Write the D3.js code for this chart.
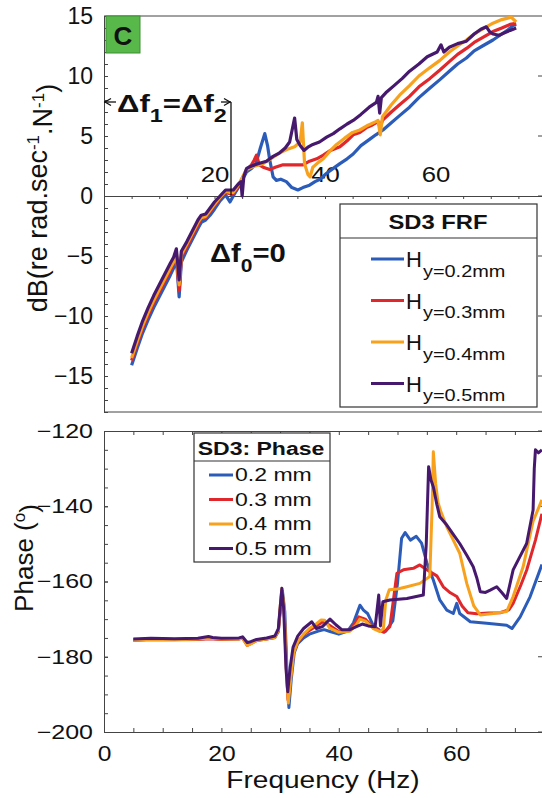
<!DOCTYPE html>
<html>
<head>
<meta charset="utf-8">
<script src="https://cdn.jsdelivr.net/npm/d3@7"></script>
<style>
body{margin:0;background:#fff;}
svg{display:block;font-family:"Liberation Sans",Arial,sans-serif;}
</style>
</head>
<body>
<div id="chart"></div>
<script>
// tick labels
var frfTicksY=[-15,-10,-5,0,5,10,15];
var frfTicksX=[20,40,60];
var phaseTicksY=[-200,-180,-160,-140,-120];
var phaseTicksX=[0,20,40,60];

// series names / colours
var seriesColors=["#2c5cb9","#e0272b","#f7a11d","#46196e"];
var frfNames=["y=0.2mm","y=0.3mm","y=0.4mm","y=0.5mm"];
var phaseNames=["0.2 mm","0.3 mm","0.4 mm","0.5 mm"];

// FRF magnitude, [frequency Hz, dB]
var frf02=[[5,-14.1],[6,-12.7],[7,-11.4],[8,-10.3],[9,-9.3],[10,-8.4],[11,-7.5],[12,-6.6],[12.6,-6.0],[13.1,-5.2],[13.6,-8.4],[14,-5.5],[15,-4.5],[16,-3.6],[17,-2.7],[17.6,-2.2],[18.4,-2.0],[19.2,-1.6],[20,-1.1],[21,-0.4],[22,0.1],[22.8,-0.5],[23.4,0.0],[24.3,0.7],[25.8,2.0],[26.7,2.3],[27.5,2.7],[28.3,4.0],[29.1,5.2],[29.6,4.2],[30,3.0],[30.6,1.6],[31.2,1.3],[32,1.4],[33,1.2],[34,0.7],[35.1,0.5],[36,0.7],[37.2,0.9],[38.2,1.2],[39.1,1.4],[40.3,1.9],[41.5,2.3],[42.7,2.7],[44,3.1],[45.1,3.5],[46.5,4.2],[48,4.7],[49.2,5.1],[50.5,5.5],[52,6.1],[53.5,6.7],[55.3,7.4],[57,8.2],[59,9.0],[60.8,9.7],[62.5,10.4],[64,11.0],[65.6,11.5],[67,12.1],[68.5,12.5],[70.4,13.0],[72,13.5],[73,13.8],[74,14.2],[74.6,14.3]];
var frf03=[[5,-13.7],[6,-12.3],[7,-11.0],[8,-9.9],[9,-8.9],[10,-8.0],[11,-7.1],[12,-6.2],[12.6,-5.6],[13.1,-4.9],[13.6,-7.9],[14,-5.1],[15,-4.2],[16,-3.3],[17,-2.4],[17.6,-1.9],[18.4,-1.8],[19.2,-1.3],[20,-0.8],[21,-0.2],[22,0.3],[22.8,0.2],[23.4,0.2],[24.3,0.8],[25.8,2.2],[26.7,2.6],[27.2,3.0],[27.6,3.4],[28.1,2.6],[28.8,2.4],[30,2.2],[31,2.4],[32.4,2.6],[34.2,2.6],[36,2.6],[37.2,2.9],[38.5,3.1],[39.7,3.4],[41,3.8],[42.7,4.1],[44,4.6],[45.1,5.1],[46.3,5.3],[47.5,5.7],[48.5,5.9],[49.6,6.2],[50,5.7],[50.4,6.3],[52,7.0],[53.5,7.6],[55.3,8.3],[57,9.1],[59,9.8],[60.8,10.5],[62.5,11.2],[64,11.8],[65.6,12.3],[67,12.8],[68.5,13.2],[70.4,13.7],[72,14.0],[73.5,14.3],[74.6,14.4]];
var frf04=[[5,-13.5],[6,-12.1],[7,-10.8],[8,-9.7],[9,-8.7],[10,-7.8],[11,-6.9],[12,-6.0],[12.6,-5.5],[13.1,-4.7],[13.6,-7.4],[14,-4.9],[15,-4.0],[16,-3.1],[17,-2.2],[17.6,-1.8],[18.4,-1.7],[19.2,-1.2],[20,-0.7],[21,-0.1],[22,0.4],[22.8,0.3],[23.4,0.3],[24.3,0.9],[25.8,2.2],[26.7,2.4],[28.8,2.7],[30.5,3.2],[31.8,3.6],[33.2,3.9],[34.5,4.1],[35.5,4.5],[35.9,6.1],[36.3,2.7],[36.9,1.8],[37.3,1.6],[37.8,2.4],[38.8,2.8],[39.7,3.1],[41,3.8],[42.1,4.3],[43.5,4.8],[45,5.3],[46.3,5.5],[47.8,5.9],[49.2,6.2],[49.6,6.3],[50,5.1],[50.4,6.6],[52,7.6],[53.5,8.4],[55.3,9.2],[57,10.0],[59,10.7],[60.8,11.3],[62.5,12.0],[64,12.5],[65.6,13.0],[67,13.5],[68.5,13.9],[70.4,14.4],[72,14.7],[73.7,14.9],[74.6,14.5]];
var frf05=[[5,-13.1],[6,-11.7],[7,-10.4],[8,-9.3],[9,-8.3],[10,-7.4],[11,-6.5],[12,-5.6],[12.6,-5.1],[13.1,-4.4],[13.6,-7.0],[14,-4.6],[15,-3.8],[16,-2.9],[17,-2.0],[17.6,-1.6],[18.4,-1.5],[19.2,-1.0],[20,-0.5],[21,0.0],[22,0.5],[22.8,0.5],[23.4,0.5],[24.3,1.0],[24.8,1.2],[25,0.0],[25.3,1.6],[25.8,2.3],[26.7,2.5],[28,2.7],[29.4,2.9],[30.6,3.3],[31.8,3.6],[32.8,4.0],[33.6,4.5],[34.5,6.5],[34.9,4.7],[35.5,4.2],[36.2,3.8],[37,4.1],[37.8,4.3],[39,4.5],[40.3,4.9],[41.5,5.2],[42.7,5.6],[44,6.0],[45.1,6.3],[46.5,6.8],[48,7.4],[49.3,7.8],[49.6,8.3],[49.9,6.9],[50.2,8.2],[51,8.6],[52.5,9.2],[54,9.8],[55.3,10.4],[57,11.0],[58.5,11.6],[60.3,12.0],[61,12.6],[61.5,12.0],[62.5,12.4],[64,12.7],[65.6,12.9],[67,13.5],[68.2,13.9],[69.2,14.1],[69.8,13.7],[70.4,13.5],[71.5,13.4],[72.5,13.6],[73.5,13.8],[74.6,14.0]];

// phase, [frequency Hz, degrees]
var ph02=[[5,-175.5],[8,-175.3],[12,-175.4],[16,-175.3],[18,-175.1],[20,-175.3],[23,-175.2],[23.6,-174.9],[24.4,-176.5],[25,-176.2],[26,-175.6],[27.7,-175.2],[29.1,-174.9],[29.7,-173.3],[30,-168],[30.4,-162.5],[30.8,-168],[31.2,-185],[31.5,-193.5],[31.9,-186],[32.4,-179],[33,-176.5],[34,-175],[35,-174],[36.5,-173.2],[37.5,-172.8],[38.5,-173.3],[40,-174.0],[41.5,-173.2],[42.5,-171],[43.6,-166.3],[44.2,-167.6],[44.9,-168.5],[45.9,-171.8],[47,-173],[48,-173.2],[49.2,-170.5],[50,-160.5],[50.7,-148.5],[51.3,-147.0],[52.2,-149.0],[53.2,-148.0],[54.1,-149.8],[55,-155],[56.1,-159.6],[57.2,-164.9],[58.4,-167.6],[59.5,-168.5],[60.1,-165.8],[60.6,-168.5],[62.4,-170.7],[65.2,-171.1],[68.6,-171.6],[69.5,-172.5],[70.9,-169.4],[72.6,-164],[74.6,-155.5]];
var ph03=[[5,-175.7],[8,-175.4],[12,-175.5],[16,-175.4],[18,-175.2],[20,-175.4],[23,-175.3],[23.6,-175],[24.4,-177.0],[25,-176.5],[26,-175.7],[27.7,-175.3],[29.1,-174.9],[29.7,-173.0],[30,-168],[30.3,-162.5],[30.7,-168],[31.1,-184],[31.35,-191.5],[31.8,-185],[32.3,-179],[33,-176],[34,-174.2],[35,-173.0],[36.5,-171.5],[37.4,-170.6],[38.4,-171.6],[40,-173.3],[41.9,-173.0],[42.8,-171],[43.4,-169.4],[44.5,-170],[45.9,-172.3],[47,-173.0],[47.7,-173.5],[48.7,-172],[49.3,-165],[49.9,-157.8],[51,-156.9],[52.7,-156.5],[53.8,-155.6],[55,-156.9],[56.7,-158.5],[57.8,-161.4],[59,-163],[60.1,-164],[61,-166.5],[62,-168.3],[63.5,-168.6],[65.5,-168.4],[67.5,-168.3],[69,-167.5],[69.7,-165.8],[71,-161],[72,-157],[73.5,-149],[74.6,-142]];
var ph04=[[5,-175.6],[8,-175.4],[12,-175.5],[16,-175.3],[18,-175.1],[20,-175.3],[23,-175.3],[23.6,-175.0],[24.4,-177.0],[25,-176.6],[26,-175.7],[27.7,-175.3],[29.1,-174.9],[29.7,-173.0],[30,-167],[30.3,-161.8],[30.7,-167],[31.1,-185],[31.4,-192.3],[31.8,-186],[32.3,-179],[33,-176],[34,-174],[35,-172.5],[36.2,-171.2],[37,-170.2],[37.6,-170.3],[38.4,-172.3],[40,-173.5],[41.9,-173.2],[43,-171.5],[43.6,-170],[44.6,-170.6],[45.9,-172.5],[47,-173.3],[47.6,-172.5],[48,-165],[48.6,-162.2],[50,-162],[51.6,-161.4],[53.8,-160.5],[55.5,-158.7],[55.9,-140],[56.1,-125.5],[56.5,-134],[56.9,-139],[57.4,-141.5],[58.4,-145.5],[59.5,-149],[60.6,-152.5],[61.8,-160.5],[63,-166.5],[64.1,-168.9],[66.3,-168.5],[68.6,-168.0],[69.7,-164],[71.4,-156.1],[73.1,-144],[74.6,-138.3]];
var ph05=[[5,-175.3],[8,-175.1],[12,-175.2],[16,-175.1],[17.8,-174.6],[18.5,-174.9],[20,-175.1],[23,-175.0],[23.6,-174.7],[24.4,-176.2],[25,-176.0],[26,-175.4],[27.7,-175.0],[29.1,-174.5],[29.7,-172.5],[30,-167],[30.3,-161.8],[30.6,-167],[31,-183],[31.3,-189.3],[31.7,-183],[32.2,-177.5],[33,-174.5],[34,-172.5],[35.4,-170.7],[36.2,-172.5],[37.2,-172.0],[38.5,-170.0],[39.5,-171.5],[40.5,-172.8],[41.9,-172.8],[43,-172.0],[44,-171.3],[45,-171.8],[46.2,-172.0],[46.8,-163.6],[47.1,-171.8],[47.5,-165.4],[48.7,-164.9],[51.6,-164.5],[54.4,-163.6],[54.9,-150],[55.3,-129.5],[55.7,-133],[56.1,-134.8],[56.7,-139.5],[57.2,-142.8],[58.4,-145],[59.5,-147.5],[60.6,-149.9],[61.8,-153],[62.9,-156.1],[63.5,-159],[64.1,-162.7],[65,-162.9],[65.8,-162.3],[66.9,-161.4],[67.8,-163],[68.6,-164.5],[69.7,-156.9],[72,-149.9],[73.1,-141],[73.3,-130],[73.5,-125],[74,-125.8],[74.6,-125]];

var frfSeries=[frf02,frf03,frf04,frf05];
var phaseSeries=[ph02,ph03,ph04,ph05];

var svg=d3.select("#chart").append("svg").attr("width",542).attr("height",798);

// scales
var xTop=d3.scaleLinear().domain([0,80]).range([104,546]);
var yTop=d3.scaleLinear().domain([-18,15]).range([412,16]);
var xBot=d3.scaleLinear().domain([0,75]).range([104,544.25]);
var yBot=d3.scaleLinear().domain([-200,-120]).range([732,431]);

var frame="#444";

// text is wider than the font in the source figure, stretch it sideways
function widen(sel,s){
  sel.each(function(){
    var t=d3.select(this), x=+t.attr("x")||0;
    t.attr("transform","translate("+(x*(1-s))+",0) scale("+s+",1)");
  });
}
function cleanAxis(g){
  g.attr("font-family",null).attr("font-size",null);
  g.selectAll("line,path").attr("stroke",frame);
  g.selectAll("text").attr("fill","#111");
}

// ---------- top panel ----------
var topG=svg.append("g");

// minor ticks left, every 1 dB
topG.append("g").attr("transform","translate(104,0)")
  .call(d3.axisLeft(yTop).tickValues(d3.range(-18,16)).tickSize(-4).tickSizeOuter(0).tickFormat(""))
  .call(cleanAxis);
// labelled left axis
topG.append("g").attr("transform","translate(104,0)")
  .call(d3.axisLeft(yTop).tickValues(frfTicksY).tickSize(-4).tickSizeOuter(0).tickPadding(11))
  .call(cleanAxis)
  .call(function(g){g.selectAll("text").style("font-size","23px");});

// top border, bottom border, right ticks
topG.append("line").attr("x1",104).attr("x2",538).attr("y1",yTop(15)).attr("y2",yTop(15)).attr("stroke",frame);
topG.append("line").attr("x1",104).attr("x2",542).attr("y1",yTop(-18)).attr("y2",yTop(-18)).attr("stroke",frame);
topG.selectAll(".rt").data(frfTicksY).enter().append("line")
  .attr("x1",538).attr("x2",542).attr("y1",function(d){return yTop(d);}).attr("y2",function(d){return yTop(d);}).attr("stroke",frame);

// x axis through 0 dB
topG.append("g").attr("transform","translate(0,"+yTop(0)+")")
  .call(d3.axisBottom(xTop).tickValues(d3.range(5,80,5)).tickSize(3).tickSizeOuter(0).tickFormat(""))
  .call(cleanAxis);
topG.append("g").attr("transform","translate(0,"+yTop(0)+")")
  .call(d3.axisTop(xTop).tickValues(frfTicksX).tickSize(0).tickPadding(14))
  .call(cleanAxis)
  .call(function(g){g.select(".domain").remove();g.selectAll("text").style("font-size","23px").call(widen,1.12);});

// curves
var lineTop=d3.line().x(function(d){return xTop(d[0]);}).y(function(d){return yTop(d[1]);});
frfSeries.forEach(function(s,i){
  topG.append("path").datum(s).attr("d",lineTop).attr("fill","none")
    .attr("stroke",seriesColors[i]).attr("stroke-width",3.2).attr("stroke-linejoin","round");
});

// y label
var yl=topG.append("text").attr("transform","translate(47,198) rotate(-90)").attr("text-anchor","middle")
  .style("font-size","27px").attr("fill","#111");
yl.append("tspan").text("dB(re rad.sec");
yl.append("tspan").attr("dy","-0.45em").style("font-size","17px").text("-1");
yl.append("tspan").attr("dy","0.45em").text(".N");
yl.append("tspan").attr("dy","-0.45em").style("font-size","17px").text("-1");
yl.append("tspan").attr("dy","0.45em").text(")");

// panel letter
topG.append("rect").attr("x",106).attr("y",16).attr("width",34).attr("height",37)
  .attr("fill","#59b84a").attr("stroke","#3f8f35");
topG.append("text").attr("x",123).attr("y",45).attr("text-anchor","middle")
  .style("font-size","26px").style("font-weight","bold").attr("fill","#111").text("C");

// delta f annotation with arrows
var ann=topG.append("g").attr("stroke","#111").attr("stroke-width",1.3).attr("fill","none");
ann.append("line").attr("x1",104).attr("x2",116).attr("y1",102).attr("y2",102);
ann.append("path").attr("d","M111,98.5L105,102L111,105.5");
ann.append("line").attr("x1",221).attr("x2",231).attr("y1",102).attr("y2",102);
ann.append("path").attr("d","M224,98.5L230,102L224,105.5");
ann.append("line").attr("x1",231).attr("x2",231).attr("y1",102).attr("y2",yTop(0));

var a1=topG.append("text").attr("x",117).attr("y",112).style("font-weight","bold").attr("fill","#111").style("font-size","24px");
a1.append("tspan").text("\u0394f");
a1.append("tspan").attr("dy",10).style("font-size","18px").text("1");
a1.append("tspan").attr("dy",-10).text("=\u0394f");
a1.append("tspan").attr("dy",10).style("font-size","18px").text("2");
widen(a1,1.3);

var a0=topG.append("text").attr("x",210).attr("y",262).style("font-weight","bold").attr("fill","#111").style("font-size","25px");
a0.append("tspan").text("\u0394f");
a0.append("tspan").attr("dy",10).style("font-size","18px").text("0");
a0.append("tspan").attr("dy",-10).text("=0");
widen(a0,1.17);

// legend top
var lg=topG.append("g");
lg.append("rect").attr("x",340).attr("y",204).attr("width",197).attr("height",203)
  .attr("fill","#fff").attr("stroke","#333").attr("stroke-width",1.2);
lg.append("line").attr("x1",340).attr("x2",537).attr("y1",238).attr("y2",238).attr("stroke","#333").attr("stroke-width",1.2);
lg.append("text").attr("x",438).attr("y",229).attr("text-anchor","middle").style("font-size","20px")
  .style("font-weight","bold").attr("fill","#111").text("SD3 FRF").call(widen,1.19);
frfNames.forEach(function(n,i){
  var ly=259+i*41.5;
  lg.append("line").attr("x1",371).attr("x2",404).attr("y1",ly).attr("y2",ly)
    .attr("stroke",seriesColors[i]).attr("stroke-width",3);
  lg.append("text").attr("x",406).attr("y",ly+8).style("font-size","22px").attr("fill","#111").text("H");
  lg.append("text").attr("x",423).attr("y",ly+18).style("font-size","17px").attr("fill","#111").text(n).call(widen,1.17);
});

// ---------- bottom panel ----------
var botG=svg.append("g");
botG.append("g").attr("transform","translate(104,0)")
  .call(d3.axisLeft(yBot).tickValues(d3.range(-200,-119,5)).tickSize(-4).tickSizeOuter(0).tickFormat(""))
  .call(cleanAxis);
botG.append("g").attr("transform","translate(104,0)")
  .call(d3.axisLeft(yBot).tickValues(phaseTicksY).tickSize(-4).tickSizeOuter(0).tickPadding(11))
  .call(cleanAxis)
  .call(function(g){g.selectAll("text").style("font-size","20px").call(widen,1.25);});

botG.append("g").attr("transform","translate(0,"+yBot(-200)+")")
  .call(d3.axisBottom(xBot).tickValues(d3.range(5,76,5)).tickSize(-4).tickSizeOuter(0).tickFormat(""))
  .call(cleanAxis);
botG.append("g").attr("transform","translate(0,"+yBot(-200)+")")
  .call(d3.axisBottom(xBot).tickValues(phaseTicksX).tickSize(0).tickPadding(13))
  .call(cleanAxis)
  .call(function(g){g.select(".domain").remove();g.selectAll("text").style("font-size","22px").call(widen,1.12);});
botG.append("g").attr("transform","translate(0,"+yBot(-120)+")")
  .call(d3.axisTop(xBot).tickValues(d3.range(5,76,5)).tickSize(-4).tickSizeOuter(0).tickFormat(""))
  .call(cleanAxis);
botG.selectAll(".rt").data(phaseTicksY).enter().append("line")
  .attr("x1",538).attr("x2",542).attr("y1",function(d){return yBot(d);}).attr("y2",function(d){return yBot(d);}).attr("stroke",frame);

var lineBot=d3.line().x(function(d){return xBot(d[0]);}).y(function(d){return yBot(d[1]);});
phaseSeries.forEach(function(s,i){
  botG.append("path").datum(s).attr("d",lineBot).attr("fill","none")
    .attr("stroke",seriesColors[i]).attr("stroke-width",3).attr("stroke-linejoin","round");
});

var pl=botG.append("text").attr("transform","translate(33,558) rotate(-90)").attr("text-anchor","middle")
  .style("font-size","26px").attr("fill","#111");
pl.append("tspan").text("Phase (");
pl.append("tspan").attr("dy","-0.5em").style("font-size","17px").text("o");
pl.append("tspan").attr("dy","0.5em").text(")");

botG.append("text").attr("x",323).attr("y",788).attr("text-anchor","middle").style("font-size","24px")
  .attr("fill","#111").text("Frequency (Hz)").call(widen,1.17);

// legend bottom
var lb=botG.append("g");
lb.append("rect").attr("x",194).attr("y",433).attr("width",136).attr("height",129)
  .attr("fill","#fff").attr("stroke","#333").attr("stroke-width",1.2);
lb.append("line").attr("x1",194).attr("x2",330).attr("y1",461).attr("y2",461).attr("stroke","#333").attr("stroke-width",1.2);
lb.append("text").attr("x",261).attr("y",455).attr("text-anchor","middle").style("font-size","18px")
  .style("font-weight","bold").attr("fill","#111").text("SD3: Phase").call(widen,1.28);
phaseNames.forEach(function(n,i){
  var ly=475+i*24.5;
  lb.append("line").attr("x1",209).attr("x2",233).attr("y1",ly).attr("y2",ly)
    .attr("stroke",seriesColors[i]).attr("stroke-width",3);
  lb.append("text").attr("x",235).attr("y",ly+6.5).style("font-size","18px").attr("fill","#111").text(n).call(widen,1.28);
});
</script>
</body>
</html>
